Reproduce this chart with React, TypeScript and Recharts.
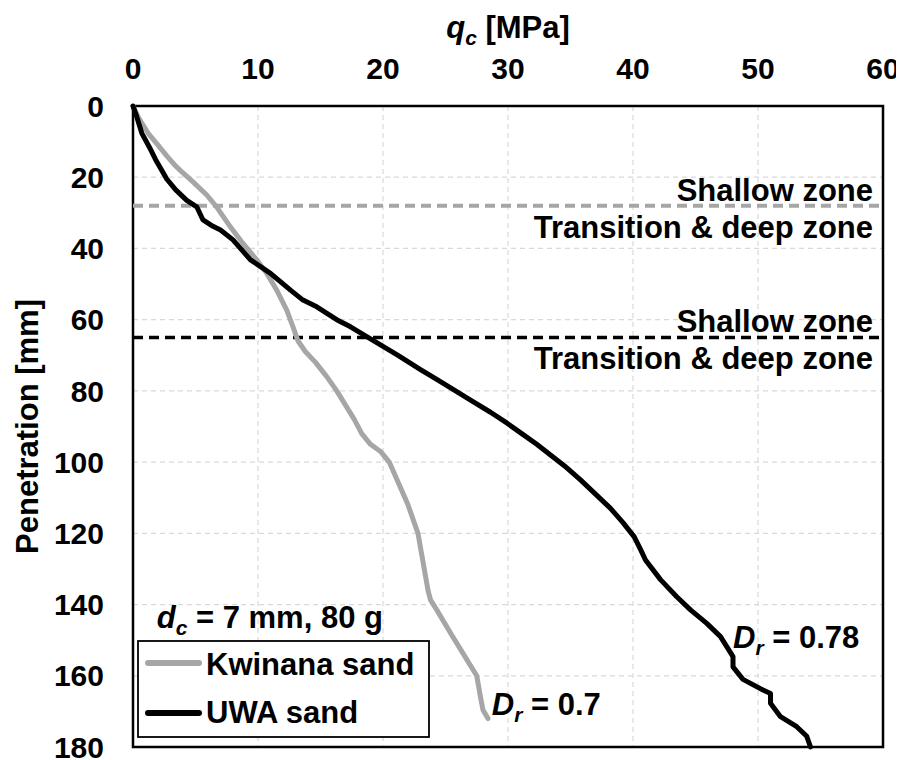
import React from 'react';
import {
  LineChart, Line, XAxis, YAxis, CartesianGrid, ReferenceLine, ReferenceArea,
  ReferenceDot, Legend, Label,
} from 'recharts';

const FONT = '"Liberation Sans", Arial, Helvetica, sans-serif';
const GRAY = '#a6a6a6';

const xTicks = [0, 10, 20, 30, 40, 50, 60];
const yTicks = [0, 20, 40, 60, 80, 100, 120, 140, 160, 180];

const kwinanaQ = [0, 0.4, 1.2, 2.0, 2.7, 3.4, 4.0, 4.8, 5.9, 6.7, 7.8, 8.8, 9.9, 10.7, 11.5, 12.3, 12.8, 13.2, 13.8, 14.6, 15.5, 16.3, 17.0, 17.7, 18.3, 19.0, 19.8, 20.5, 21.0, 21.5, 22.0, 22.4, 22.8, 23.0, 23.2, 23.4, 23.6, 23.8, 24.3, 25.4, 26.4, 27.5, 27.8, 28.0, 28.4];
const kwinanaD = [0, 3, 7.6, 11, 14, 16.8, 18.8, 21.3, 25, 28.4, 34, 38.6, 43.2, 47, 51.7, 57.3, 62, 66, 69, 72, 76, 80, 84, 88, 92, 95, 97, 100, 104, 108, 112, 116, 120, 124, 128, 132, 136, 138.7, 141.5, 148, 153.7, 160, 166, 169.6, 172];

const uwaQ = [0, 0.3, 0.7, 1.3, 1.8, 2.7, 3.4, 4.3, 5.1, 5.6, 6.4, 7.0, 8.0, 9.4, 11.0, 12.6, 13.6, 14.7, 16.3, 17.4, 19.3, 21.2, 23.0, 24.4, 25.8, 27.2, 28.6, 29.9, 31.1, 32.3, 33.4, 34.5, 35.8, 37.0, 38.2, 39.2, 40.1, 40.6, 41.0, 42.2, 43.5, 44.6, 45.9, 47.0, 47.5, 48.0, 48.0, 48.8, 50.4, 51.0, 51.0, 51.8, 53.1, 53.9, 54.2];
const uwaD = [0, 3, 7.6, 11.5, 15, 20.5, 23.5, 26.5, 28.3, 32, 33.8, 34.8, 37.6, 43.2, 47, 51.7, 54.5, 56.4, 60, 62, 66, 70, 74, 77, 80, 83, 86, 89, 92, 95, 98, 101, 105, 109, 113, 117, 121, 124.5, 127.5, 133, 137.8, 141.5, 145.3, 149, 151.8, 154.6, 157.5, 161, 164, 165, 167.7, 171.5, 174.3, 177, 180];

const seriesNames = ['Kwinana sand', 'UWA sand'];
const zoneDepths = [28, 65];
const drLabels = [
  { q: 28.7, d: 171, value: '0.7' },
  { q: 48.0, d: 152.2, value: '0.78' },
];
const noteText = { q: 1.9, d: 146.6 };

const kwinana = kwinanaQ.map((q, i) => ({ q, d: kwinanaD[i] }));
const uwa = uwaQ.map((q, i) => ({ q, d: uwaD[i] }));

const textStyle = { fontFamily: FONT, fontWeight: 700, fill: '#000' } as const;

const ZoneLabel = (props: any) => {
  const vb = props.viewBox || {};
  const xr = vb.x + vb.width - 10;
  const y = vb.y;
  return (
    <g>
      <text x={xr} y={y - 5} textAnchor="end" fontSize={31} {...textStyle}>Shallow zone</text>
      <text x={xr} y={y + 32} textAnchor="end" fontSize={31} {...textStyle}>Transition &amp; deep zone</text>
    </g>
  );
};

const DrShape = (value: string) => (p: any) => (
  <text x={p.cx} y={p.cy} fontSize={31} {...textStyle}>
    <tspan fontStyle="italic">D</tspan>
    <tspan fontStyle="italic" fontSize={21} dy={7}>r</tspan>
    <tspan dy={-7}>{' = ' + value}</tspan>
  </text>
);

const NoteShape = (p: any) => (
  <text x={p.cx} y={p.cy} fontSize={31} {...textStyle}>
    <tspan fontStyle="italic">d</tspan>
    <tspan fontStyle="italic" fontSize={21} dy={7}>c</tspan>
    <tspan dy={-7}>{' = 7 mm, 80 g'}</tspan>
  </text>
);

const renderLegend = (props: any) => {
  const payload = props.payload || [];
  return (
    <svg width={293} height={98} style={{ display: 'block' }}>
      <rect x={1} y={1} width={291} height={96} fill="#fff" stroke="#000" strokeWidth={1.8} />
      {payload.map((e: any, i: number) => (
        <g key={i}>
          <line x1={11} x2={62} y1={23 + i * 50} y2={23 + i * 50} stroke={e.color} strokeWidth={6} strokeLinecap="round" />
          <text x={69} y={35 + i * 48} fontSize={31} {...textStyle}>{e.value}</text>
        </g>
      ))}
    </svg>
  );
};

const XTitle = (props: any) => {
  const vb = props.viewBox || {};
  const cx = vb.x + vb.width / 2;
  return (
    <text x={cx} y={30} textAnchor="middle" fontSize={31} {...textStyle}>
      <tspan fontStyle="italic">q</tspan>
      <tspan fontStyle="italic" fontSize={21} dy={7}>c</tspan>
      <tspan dy={-7}>{' [MPa]'}</tspan>
    </text>
  );
};

const YTitle = (props: any) => {
  const vb = props.viewBox || {};
  const cx = 19;
  const cy = vb.y + vb.height / 2;
  return (
    <text x={cx} y={cy} dy="0.36em" textAnchor="middle" fontSize={31} transform={`rotate(-90 ${cx} ${cy})`} {...textStyle}>
      Penetration [mm]
    </text>
  );
};

export default function App() {
  return (
    <LineChart
      width={896}
      height={752}
      margin={{ top: 0, right: 21, bottom: 13, left: 0 }}
      style={{ fontFamily: FONT }}
    >
      <CartesianGrid stroke="#d9d9d9" strokeDasharray="5 4" strokeWidth={1.2} />
      <XAxis
        dataKey="q"
        type="number"
        orientation="top"
        domain={[0, 60]}
        ticks={xTicks}
        interval={0}
        height={98}
        axisLine={false}
        tickLine={false}
        tickSize={0}
        tickMargin={27}
        tick={{ fontSize: 30, fontWeight: 700, fill: '#000', fontFamily: FONT }}
      >
        <Label content={XTitle} />
      </XAxis>
      <YAxis
        dataKey="d"
        type="number"
        reversed
        domain={[0, 180]}
        ticks={yTicks}
        interval={0}
        width={125}
        axisLine={false}
        tickLine={false}
        tickSize={0}
        tickMargin={29}
        tick={{ fontSize: 30, fontWeight: 700, fill: '#000', fontFamily: FONT }}
      >
        <Label content={YTitle} />
      </YAxis>
      <ReferenceLine y={zoneDepths[0]} stroke={GRAY} strokeWidth={4} strokeDasharray="10 6" label={<ZoneLabel />} />
      <ReferenceLine y={zoneDepths[1]} stroke="#000" strokeWidth={3.5} strokeDasharray="10 6" label={<ZoneLabel />} />
      <Line
        data={kwinana}
        dataKey="d"
        name={seriesNames[0]}
        stroke={GRAY}
        strokeWidth={5}
        dot={false}
        type="linear"
        strokeLinejoin="round"
        strokeLinecap="round"
        isAnimationActive={false}
      />
      <Line
        data={uwa}
        dataKey="d"
        name={seriesNames[1]}
        stroke="#000"
        strokeWidth={5}
        dot={false}
        type="linear"
        strokeLinejoin="round"
        strokeLinecap="round"
        isAnimationActive={false}
      />
      <ReferenceDot x={drLabels[0].q} y={drLabels[0].d} r={0} shape={DrShape(drLabels[0].value)} />
      <ReferenceDot x={drLabels[1].q} y={drLabels[1].d} r={0} shape={DrShape(drLabels[1].value)} />
      <ReferenceDot x={noteText.q} y={noteText.d} r={0} shape={NoteShape} />
      <ReferenceArea x1={0} x2={60} y1={0} y2={180} fill="none" stroke="#000" strokeWidth={2.5} />
      <Legend
        layout="horizontal"
        verticalAlign="middle"
        align="center"
        content={renderLegend}
        wrapperStyle={{ position: 'absolute', left: 129, top: 632, width: 293, height: 98 }}
      />
    </LineChart>
  );
}
